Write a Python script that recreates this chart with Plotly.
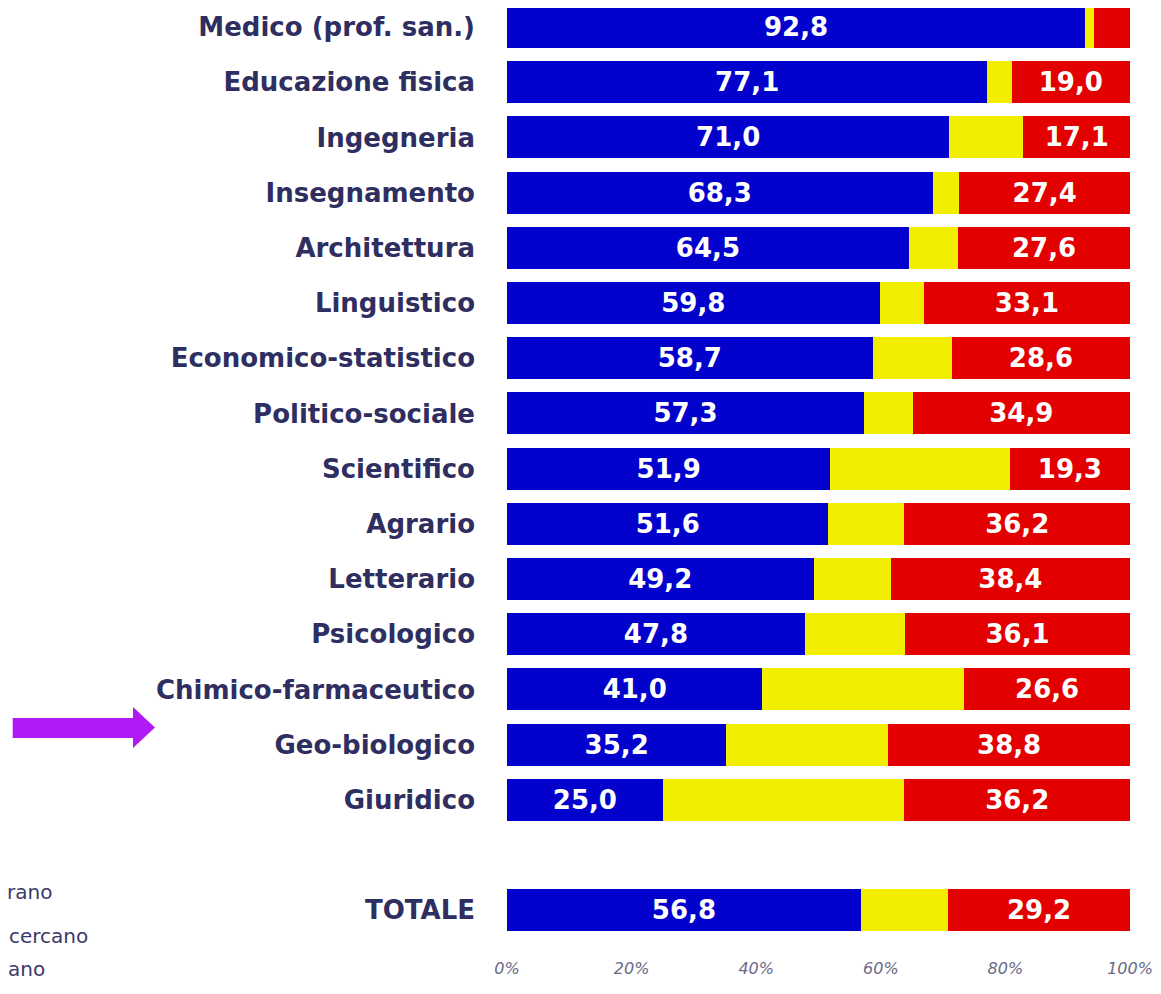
import plotly.graph_objects as go

categories = ["Medico (prof. san.)", "Educazione fisica", "Ingegneria", "Insegnamento",
              "Architettura", "Linguistico", "Economico-statistico", "Politico-sociale",
              "Scientifico", "Agrario", "Letterario", "Psicologico", "Chimico-farmaceutico",
              "Geo-biologico", "Giuridico", "TOTALE"]
lavorano = [92.8, 77.1, 71.0, 68.3, 64.5, 59.8, 58.7, 57.3, 51.9, 51.6, 49.2, 47.8, 41.0, 35.2, 25.0, 56.8]
non_lav_non_cercano = [5.8, 19.0, 17.1, 27.4, 27.6, 33.1, 28.6, 34.9, 19.3, 36.2, 38.4, 36.1, 26.6, 38.8, 36.2, 29.2]
non_lav_cercano = [round(100 - a - b, 1) for a, b in zip(lavorano, non_lav_non_cercano)]
show_red_label = [False] + [True] * 15
positions = list(range(15)) + [16]
tick_vals = [0, 20, 40, 60, 80, 100]
tick_text = ["0%", "20%", "40%", "60%", "80%", "100%"]
# legend texts as visible (cut off) in the reference
legend_fragments = ["rano", "cercano", "ano"]

def fmt(v):
    return f"{v:.1f}".replace(".", ",")

fig = go.Figure()
lab_font = dict(family="DejaVu Sans", size=26, color="white", weight="bold")
fig.add_trace(go.Bar(
    y=positions, x=lavorano, orientation="h", name="Lavorano",
    marker=dict(color="#0202CC", line=dict(width=0)),
    text=[fmt(v) for v in lavorano], textposition="inside", insidetextanchor="middle",
    textfont=lab_font, width=0.76))
fig.add_trace(go.Bar(
    y=positions, x=non_lav_cercano, orientation="h", name="Non lavorano e cercano",
    marker=dict(color="#F2EE00", line=dict(width=0)), width=0.76))
fig.add_trace(go.Bar(
    y=positions, x=non_lav_non_cercano, orientation="h", name="Non lavorano e non cercano",
    marker=dict(color="#E20000", line=dict(width=0)),
    text=[fmt(v) if s else "" for v, s in zip(non_lav_non_cercano, show_red_label)],
    textposition="inside", insidetextanchor="middle", textfont=lab_font, width=0.76))

W, H = 1145, 978
ml, mr, mt, mb = 499, 23, 0, 29
pw, ph = W - ml - mr, H - mt - mb
row_px = 55.2
row0_px = 19.0
y_top = -row0_px / row_px
y_bot = (ph - row0_px) / row_px

def px_x(p):
    return (p - 8 - ml) / pw

def px_y(p):
    return 1 - (p - 8 - mt) / ph

fig.update_layout(
    width=W, height=H, barmode="stack", showlegend=False,
    margin=dict(l=ml, r=mr, t=mt, b=mb),
    paper_bgcolor="white", plot_bgcolor="white",
    uniformtext=dict(minsize=20, mode="show"),
    xaxis=dict(range=[0, 100], tickvals=tick_vals, ticktext=tick_text, showgrid=False,
               zeroline=False, showline=False,
               tickfont=dict(family="DejaVu Sans", size=16, color="#6a6a88", style="italic")),
    yaxis=dict(range=[y_bot, y_top], tickvals=positions, ticktext=categories, showgrid=False,
               zeroline=False, showline=False, ticklabelstandoff=31,
               tickfont=dict(family="DejaVu Sans", size=26, color="#2E2E60", weight="bold")),
)

# purple arrow (page pixel coordinates)
pts = [(12.7, 718), (133, 718), (133, 707), (155, 727.5), (133, 748), (133, 738), (12.7, 738)]
path = "M " + " L ".join(f"{px_x(x):.5f},{px_y(y):.5f}" for x, y in pts) + " Z"
fig.add_shape(type="path", path=path, xref="paper", yref="paper",
              fillcolor="#B11AF6", line=dict(width=0))

for name, xr, yc in zip(legend_fragments, [54, 90, 47], [892, 936, 969]):
    fig.add_annotation(text=name, xref="paper", yref="paper", x=px_x(xr), y=px_y(yc),
                       xanchor="right", yanchor="middle", showarrow=False,
                       font=dict(family="DejaVu Sans", size=20, color="#3a3a6a"))

fig.write_html("out.html")
